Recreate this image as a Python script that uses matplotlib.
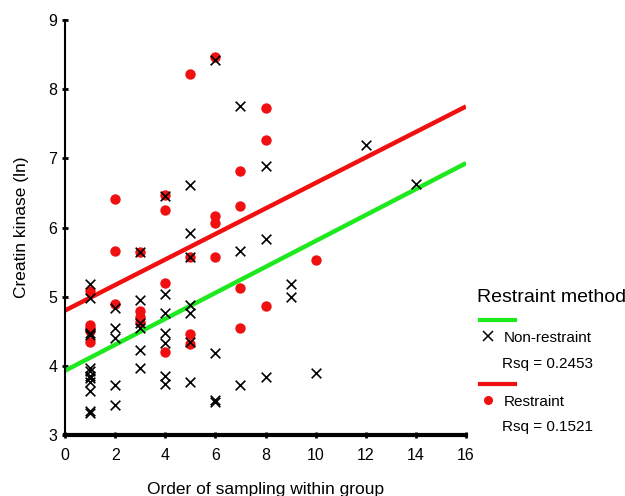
import matplotlib
matplotlib.use("Agg")
import matplotlib.pyplot as plt
from matplotlib.lines import Line2D

plt.rcParams['font.family'] = ['Liberation Sans', 'DejaVu Sans']

# Data
nonres_x = [1, 1, 1, 1, 1, 1, 1, 1, 1, 1, 1, 1,
            2, 2, 2, 2, 2,
            3, 3, 3, 3, 3, 3,
            4, 4, 4, 4, 4, 4, 4,
            5, 5, 5, 5, 5, 5, 5,
            6, 6, 6, 6,
            7, 7, 7,
            8, 8, 8,
            9, 9, 10, 12, 14]
nonres_y = [5.18, 4.98, 4.48, 4.45, 3.97, 3.93, 3.86, 3.82, 3.77, 3.64, 3.35, 3.32,
            4.84, 4.55, 4.40, 3.72, 3.43,
            5.65, 4.95, 4.62, 4.55, 4.23, 3.97,
            6.45, 5.04, 4.77, 4.48, 4.33, 3.85, 3.74,
            6.61, 5.92, 5.57, 4.88, 4.76, 4.35, 3.76,
            8.42, 4.18, 3.50, 3.48,
            7.75, 5.66, 3.72,
            6.89, 5.83, 3.84,
            5.18, 5.00, 3.90, 7.19, 6.63]

res_x = [1, 1, 1, 1, 1,
         2, 2, 2,
         3, 3, 3, 3,
         4, 4, 4, 4,
         5, 5, 5, 5,
         6, 6, 6, 6,
         7, 7, 7, 7,
         8, 8, 8,
         10]
res_y = [5.08, 4.59, 4.55, 4.50, 4.35,
         6.41, 5.66, 4.89,
         5.65, 4.80, 4.71, 4.64,
         6.47, 6.25, 5.20, 4.20,
         8.22, 5.58, 4.46, 4.31,
         8.47, 6.17, 6.07, 5.57,
         6.81, 6.31, 5.12, 4.55,
         7.73, 7.26, 4.86,
         5.53]

# fitted lines (end points)
fit_x = [0, 16]
nonres_fit = [3.93, 6.93]
res_fit = [4.80, 7.75]

green = "#1ee81e"
red = "#f01010"

fig = plt.figure(figsize=(6.25, 4.96), dpi=100)
ax = fig.add_axes([65 / 625, 61 / 496, 401 / 625, 415 / 496])

ax.plot(fit_x, res_fit, color=red, linewidth=3.2, solid_capstyle="butt", zorder=2)
ax.plot(fit_x, nonres_fit, color=green, linewidth=3.2, solid_capstyle="butt", zorder=2)
ax.scatter(res_x, res_y, s=56, color=red, marker="o", linewidths=0, zorder=3)
ax.scatter(nonres_x, nonres_y, s=48, color="black", marker="x", linewidths=1.2, zorder=4)

ax.set_xlim(0, 16)
ax.set_ylim(3, 9)
ax.set_xticks(range(0, 17, 2))
ax.set_yticks(range(3, 10))
ax.spines["top"].set_visible(False)
ax.spines["right"].set_visible(False)
ax.spines["bottom"].set_linewidth(3)
ax.spines["left"].set_linewidth(1.5)
ax.tick_params(axis="both", direction="inout", length=4, width=2, labelsize=11.5)
ax.tick_params(axis="x", pad=7)
ax.set_xlabel("Order of sampling within group", fontsize=12.5, labelpad=14)
ax.set_ylabel("Creatin kinase (ln)", fontsize=12.5, labelpad=14)

# Legend drawn at the right of the plot
def fx(px):
    return px / 625

def fy(py):
    return 1 - py / 496

fig.text(fx(477), fy(298), "Restraint method", fontsize=14, va="center", ha="left")
fig.add_artist(Line2D([fx(480), fx(515)], [fy(320), fy(320)], color=green, linewidth=3))
fig.add_artist(Line2D([fx(488)], [fy(336)], marker="x", color="black", markersize=7, markeredgewidth=1.1))
fig.text(fx(504), fy(338), "Non-restraint", fontsize=11, va="center", ha="left")
fig.text(fx(502), fy(364), "Rsq = 0.2453", fontsize=11, va="center", ha="left")
fig.add_artist(Line2D([fx(480), fx(515)], [fy(384), fy(384)], color=red, linewidth=3))
fig.add_artist(Line2D([fx(488)], [fy(400)], marker="o", color=red, markersize=6.5, markeredgewidth=0))
fig.text(fx(504), fy(402), "Restraint", fontsize=11, va="center", ha="left")
fig.text(fx(502), fy(427), "Rsq = 0.1521", fontsize=11, va="center", ha="left")

fig.savefig("out.png", dpi=100)
